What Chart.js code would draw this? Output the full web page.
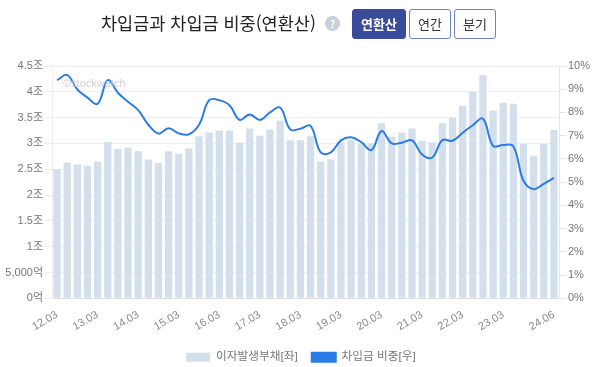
<!DOCTYPE html>
<html lang="ko">
<head>
<meta charset="utf-8">
<title>차입금과 차입금 비중(연환산)</title>
<script src="https://cdn.jsdelivr.net/npm/chart.js@4"></script>
<style>
  html, body { margin: 0; padding: 0; background: #fff; }
  #wrap { position: relative; width: 602px; height: 367px; overflow: hidden; font-family: "Noto Sans CJK KR", "Liberation Sans", sans-serif; }
  #chartBox { position: absolute; left: 0; top: 0; width: 602px; height: 367px; }
  #title { position: absolute; left: 101px; top: 10px; font-size: 17.5px; line-height: 26px; color: #222; white-space: nowrap; }
  #help { position: absolute; left: 325px; top: 16px; width: 15px; height: 15px; border-radius: 50%; background: #c9cede; color: #fff; font-size: 11px; font-weight: 700; line-height: 15px; text-align: center; }
  .btn { position: absolute; top: 9px; height: 28px; line-height: 28px; border: 1px solid #6f83c4; border-radius: 3px; font-size: 13px; color: #333; text-align: center; background: #fff; }
  .btn.on { background: #3b4b9b; border-color: #3b4b9b; color: #fff; font-weight: 700; }
  #mark { position: absolute; left: 63px; top: 77px; font-family: "Liberation Sans", sans-serif; font-size: 11px; color: #cfcfcf; }
</style>
</head>
<body>
<div id="wrap">
  <div id="chartBox"><canvas id="myChart"></canvas></div>
  <div id="title">차입금과 차입금 비중(연환산)</div>
  <div id="help">?</div>
  <div class="btn on" style="left:352px;width:52px">연환산</div>
  <div class="btn" style="left:409px;width:40px">연간</div>
  <div class="btn" style="left:454px;width:40px">분기</div>
  <div id="mark">©stockwatch</div>
</div>
<script>
// quarters, 12.03 ~ 24.06
var categories = ['12.03','12.06','12.09','12.12','13.03','13.06','13.09','13.12','14.03','14.06','14.09','14.12',
  '15.03','15.06','15.09','15.12','16.03','16.06','16.09','16.12','17.03','17.06','17.09','17.12',
  '18.03','18.06','18.09','18.12','19.03','19.06','19.09','19.12','20.03','20.06','20.09','20.12',
  '21.03','21.06','21.09','21.12','22.03','22.06','22.09','22.12','23.03','23.06','23.09','23.12','24.03','24.06'];
var shownLabels = ['12.03','13.03','14.03','15.03','16.03','17.03','18.03','19.03','20.03','21.03','22.03','23.03','24.06'];

// 이자발생부채 (unit: 조)
var debt = [2.50,2.63,2.59,2.57,2.65,3.03,2.89,2.92,2.85,2.69,2.62,2.85,2.80,2.90,3.14,3.21,3.25,3.25,3.02,3.29,
  3.15,3.27,3.44,3.06,3.06,3.14,2.65,2.69,3.02,3.07,3.00,3.00,3.39,3.13,3.21,3.29,3.05,3.02,3.39,3.50,
  3.73,4.00,4.32,3.64,3.79,3.77,2.99,2.75,2.99,3.26];
// 차입금 비중 (%)
var ratio = [9.39,9.61,8.99,8.64,8.37,9.39,8.85,8.46,8.10,7.47,7.09,7.32,7.10,7.06,7.47,8.53,8.53,8.31,7.68,7.91,
  7.68,8.00,8.21,7.27,7.30,7.42,6.28,6.28,6.80,6.93,6.72,6.38,7.20,6.67,6.70,6.80,6.19,6.06,6.81,6.78,
  7.13,7.45,7.73,6.56,6.60,6.54,5.06,4.70,4.93,5.18];

var leftLabels = ['0억','5,000억','1조','1.5조','2조','2.5조','3조','3.5조','4조','4.5조'];

var tickFont = { family: '"Liberation Sans", "Noto Sans CJK KR", sans-serif', size: 11 };

const ctx = document.getElementById('myChart');
const myChart = new Chart(ctx, {
  data: {
    labels: categories,
    datasets: [{
      type: 'bar',
      label: '이자발생부채[좌]',
      data: debt,
      yAxisID: 'y',
      backgroundColor: '#d3dfeb',
      borderWidth: 0,
      categoryPercentage: 0.72,
      barPercentage: 1,
      order: 2
    }, {
      type: 'line',
      label: '차입금 비중[우]',
      data: ratio,
      yAxisID: 'y1',
      borderColor: '#2a7de8',
      backgroundColor: '#2a7de8',
      borderWidth: 2,
      pointRadius: 0,
      tension: 0.4,
      order: 1
    }]
  },
  options: {
    responsive: true,
    maintainAspectRatio: false,
    animation: false,
    layout: { padding: { top: 66, bottom: -6 } },
    plugins: {
      tooltip: { enabled: false },
      legend: {
        position: 'bottom',
        labels: {
          boxWidth: 24,
          boxHeight: 9,
          padding: 14,
          color: '#777',
          font: { family: tickFont.family, size: 11.7 },
          sort: function(a, b) { return a.datasetIndex - b.datasetIndex; }
        }
      }
    },
    scales: {
      x: {
        grid: { display: false },
        border: { color: '#dddddd' },
        afterFit: function(scale) { scale.height = 39; },
        ticks: {
          autoSkip: false,
          maxRotation: 30,
          minRotation: 30,
          color: '#888',
          font: tickFont,
          padding: 2,
          callback: function(val) {
            var lab = categories[val];
            return shownLabels.indexOf(lab) >= 0 ? lab : '';
          }
        }
      },
      y: {
        position: 'left',
        min: 0,
        max: 4.5,
        afterFit: function(scale) { scale.width = 52; },
        grid: { color: '#eeeeee', tickLength: 7 },
        border: { color: '#eeeeee' },
        ticks: {
          stepSize: 0.5,
          color: '#777',
          font: tickFont,
          padding: 2,
          callback: function(val) { return leftLabels[Math.round(val * 2)]; }
        }
      },
      y1: {
        position: 'right',
        min: 0,
        max: 10,
        afterFit: function(scale) { scale.width = 43; },
        grid: { drawOnChartArea: false, color: '#e6e6e6', tickLength: 7 },
        border: { color: '#e6e6e6' },
        ticks: {
          stepSize: 1,
          color: '#777',
          font: tickFont,
          padding: 2,
          callback: function(val) { return val + '%'; }
        }
      }
    }
  }
});
</script>
</body>
</html>
